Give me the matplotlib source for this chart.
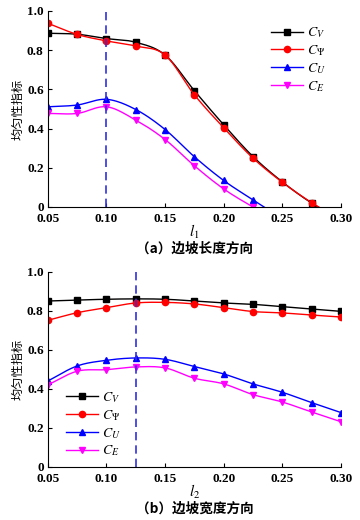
import numpy as np
import matplotlib
matplotlib.use('Agg')
import matplotlib.pyplot as plt

plt.rcParams['font.family'] = ['Liberation Serif', 'Noto Sans CJK SC']
plt.rcParams['mathtext.fontset'] = 'stix'

# (a) slope length direction
l1 = [0.05, 0.075, 0.10, 0.125, 0.15, 0.175, 0.20, 0.225, 0.25, 0.275, 0.30]
a_cv = [0.886, 0.881, 0.859, 0.840, 0.775, 0.593, 0.419, 0.257, 0.128, 0.020, -0.065]
a_cpsi = [0.937, 0.880, 0.847, 0.821, 0.775, 0.572, 0.404, 0.249, 0.126, 0.022, -0.065]
a_cu = [0.511, 0.520, 0.549, 0.497, 0.395, 0.256, 0.135, 0.036, -0.060]
a_ce = [0.477, 0.477, 0.511, 0.443, 0.344, 0.210, 0.092, 0.000, -0.080]

# (b) slope width direction
l2 = [0.05, 0.075, 0.10, 0.125, 0.15, 0.175, 0.20, 0.225, 0.25, 0.275, 0.30]
b_cv = [0.851, 0.856, 0.860, 0.862, 0.860, 0.851, 0.841, 0.834, 0.822, 0.810, 0.798]
b_cpsi = [0.752, 0.791, 0.817, 0.841, 0.844, 0.836, 0.817, 0.797, 0.790, 0.779, 0.769]
b_cu = [0.441, 0.518, 0.547, 0.559, 0.552, 0.515, 0.477, 0.426, 0.383, 0.330, 0.279]
b_ce = [0.421, 0.491, 0.499, 0.513, 0.508, 0.455, 0.426, 0.371, 0.333, 0.282, 0.232]

names = [r'$C_V$', r'$C_\Psi$', r'$C_U$', r'$C_E$']
colors = ['black', 'red', 'blue', 'magenta']
markers = ['s', 'o', '^', 'v']


def smooth(x, y, n=20):
    # catmull-rom curve through the points, for drawing only
    x = np.asarray(x, float)
    y = np.asarray(y, float)
    px = np.concatenate([[2*x[0]-x[1]], x, [2*x[-1]-x[-2]]])
    py = np.concatenate([[2*y[0]-y[1]], y, [2*y[-1]-y[-2]]])
    xs, ys = [], []
    t = np.linspace(0, 1, n, endpoint=False)
    for i in range(1, len(px)-2):
        for p, out in ((px, xs), (py, ys)):
            p0, p1, p2, p3 = p[i-1], p[i], p[i+1], p[i+2]
            out.extend(0.5*((2*p1) + (-p0+p2)*t + (2*p0-5*p1+4*p2-p3)*t**2
                            + (-p0+3*p1-3*p2+p3)*t**3))
    xs.append(x[-1])
    ys.append(y[-1])
    return np.array(xs), np.array(ys)


def panel(ax, x, series, vline, xlab, caption, legloc, bbox):
    handles = []
    for y, nm, c, m in zip(series, names, colors, markers):
        xx = x[:len(y)]
        sx, sy = smooth(xx, y)
        ax.plot(sx, sy, color=c, lw=1.0)
        ax.plot(xx, y, ls='none', marker=m, color=c, ms=4.5)
        h, = ax.plot([], [], color=c, marker=m, ms=4.5, lw=1.0, label=nm)
        handles.append(h)
    ax.plot([vline, vline], [0, 1.0], color='#3030e0', ls=(0, (5, 3)), lw=1.2)
    ax.set_xlim(0.05, 0.30)
    ax.set_ylim(0, 1.0)
    ax.set_xticks(np.arange(0.05, 0.301, 0.05))
    ax.set_xticklabels(['0.05', '0.10', '0.15', '0.20', '0.25', '0.30'])
    ax.set_yticks([0, 0.2, 0.4, 0.6, 0.8, 1.0])
    ax.set_yticklabels(['0', '0.2', '0.4', '0.6', '0.8', '1.0'])
    ax.spines['top'].set_visible(False)
    ax.spines['right'].set_visible(False)
    ax.tick_params(direction='in', length=3, width=0.8, labelsize=9.5)
    ax.tick_params(axis='x', pad=4.5)
    ax.tick_params(axis='y', pad=3)
    for lb in ax.get_xticklabels() + ax.get_yticklabels():
        lb.set_fontweight('bold')
    ax.set_ylabel('均匀性指标', family=['Noto Sans CJK SC'], fontsize=8.8,
                  fontweight='medium', labelpad=2)
    ax.set_xlabel(xlab, fontsize=11, labelpad=-2)
    ax.text(0.5, -0.215, caption, transform=ax.transAxes, ha='center', va='center',
            fontsize=9.8, fontweight='bold', family=['Noto Sans CJK SC'])
    ax.legend(handles=handles, loc=legloc, bbox_to_anchor=bbox, frameon=False,
              fontsize=10, handlelength=2.3, labelspacing=0.22, handletextpad=0.3)


fig = plt.figure(figsize=(3.6, 5.2), dpi=100)
ax1 = fig.add_axes([0.133, 0.602, 0.814, 0.377])
ax2 = fig.add_axes([0.133, 0.102, 0.814, 0.375])

panel(ax1, l1, [a_cv, a_cpsi, a_cu, a_ce], 0.10, r'$l_1$', '（a）边坡长度方向',
      'upper left', (0.72, 0.99))
panel(ax2, l2, [b_cv, b_cpsi, b_cu, b_ce], 0.125, r'$l_2$', '（b）边坡宽度方向',
      'lower left', (0.02, -0.02))

fig.savefig('out.png', dpi=100)
